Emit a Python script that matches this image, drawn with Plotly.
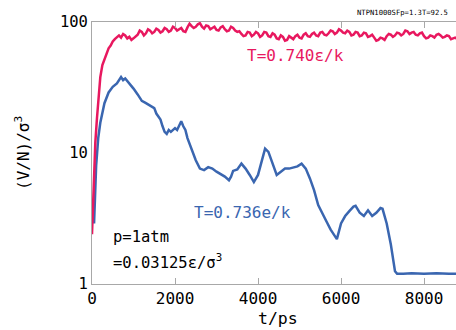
import plotly.graph_objects as go

# Red series: T = 0.740 eps/k  (main readings)
red_t = [0, 40, 80, 120, 160, 200, 250, 300, 350, 400, 450, 500, 550, 600, 650, 700, 750, 800, 850, 900, 950, 1000,
         1100, 1200, 1300, 1400, 1500, 1600, 1700, 1800, 1900, 2000, 2100, 2200, 2300, 2350, 2400, 2500, 2600, 2700,
         2800, 2900, 3000, 3100, 3200, 3300, 3400, 3500, 3600, 3700, 3800, 3900, 4000, 4100, 4200, 4300, 4400, 4500,
         4600, 4700, 4800, 4900, 5000, 5100, 5200, 5300, 5400, 5500, 5600, 5700, 5800, 5900, 6000, 6100, 6200, 6300,
         6400, 6500, 6600, 6700, 6800, 6900, 7000, 7100, 7200, 7300, 7400, 7500, 7600, 7700, 7800, 7900, 8000, 8100,
         8200, 8300, 8400, 8500, 8600, 8700, 8800]
red_v = [2.4, 6, 12, 18.5, 27, 38, 47, 52, 58, 63, 66, 71, 74, 77, 79, 76, 81, 79, 75, 77, 73, 75,
         80, 84, 82, 86, 84, 87, 85, 88, 86, 90, 88, 85, 91, 97, 93, 92, 98, 89,
         93, 90, 87, 91, 88, 86, 90, 84, 81, 79, 83, 80, 82, 79, 83, 77, 80, 74,
         77, 73, 76, 78, 76, 80, 78, 81, 79, 83, 80, 82, 85, 83, 86, 82, 84, 80,
         83, 79, 82, 78, 76, 73, 75, 78, 80, 79, 82, 81, 85, 83, 80, 82, 78, 76,
         78, 80, 79, 77, 78, 75, 74]
# Red series: extra readings of the fluctuations between the main readings
red_t_mid = [1050, 1150, 1250, 1350, 1450, 1550, 1650, 1750, 1850, 1950, 2050, 2150, 2250, 2450, 2550, 2650, 2750,
             2850, 2950, 3050, 3150, 3250, 3350, 3450, 3550, 3650, 3750, 3850, 3950, 4050, 4150, 4250, 4350, 4450,
             4550, 4650, 4750, 4850, 4950, 5050, 5150, 5250, 5350, 5450, 5550, 5650, 5750, 5850, 5950, 6050, 6150,
             6250, 6350, 6450, 6550, 6650, 6750, 6850, 6950, 7050, 7150, 7250, 7350, 7450, 7550, 7650, 7750, 7850,
             7950, 8050, 8150, 8250, 8350, 8450, 8550, 8650, 8750]
red_v_mid = [78, 86, 79, 88, 82, 89, 83, 90, 84, 92, 86, 90, 84, 90, 96, 92, 94,
             88, 92, 86, 93, 85, 92, 86, 85, 78, 84, 78, 84, 77, 84, 78, 82, 75,
             79, 72, 78, 74, 80, 75, 82, 77, 83, 78, 84, 79, 86, 81, 88, 83, 86,
             79, 84, 78, 83, 77, 80, 72, 76, 73, 81, 77, 83, 79, 86, 81, 84, 79,
             83, 75, 79, 76, 81, 76, 79, 74, 76]

# Blue series: T = 0.736 e/k
blue_t = [50, 100, 150, 200, 300, 400, 500, 600, 700, 750, 800, 900, 1000, 1100, 1200, 1300, 1400, 1500, 1550,
          1600, 1650, 1700, 1750, 1800, 1850, 1900, 2000, 2050, 2100, 2150, 2200, 2250, 2300, 2400, 2500, 2600,
          2700, 2800, 2900, 3000, 3100, 3200, 3300, 3350, 3400, 3500, 3600, 3700, 3800, 3900, 4000, 4100, 4170,
          4250, 4350, 4450, 4550, 4650, 4750, 4850, 4950, 5050, 5150, 5250, 5350, 5450, 5550, 5650, 5750, 5900,
          6000, 6100, 6200, 6300, 6350, 6450, 6550, 6650, 6750, 6850, 6950, 7000, 7100, 7200, 7300, 7350, 7500,
          7700, 8000, 8300, 8600, 8800]
blue_v = [2.9, 8, 13, 17, 24, 29, 32, 34, 38, 36, 37, 34, 31, 28, 25, 24, 23, 22, 20,
          19, 18, 16, 14.5, 14, 15, 14.5, 15.5, 15, 16, 17.5, 16, 15, 13, 10.5, 8.8, 7.6,
          7.4, 7.8, 7.6, 7.2, 6.9, 6.6, 6.2, 6.6, 7.3, 7.5, 8.3, 7.6, 6.8, 6.0, 6.8, 9.0, 10.8,
          10.2, 8.2, 6.8, 7.2, 7.6, 7.6, 7.8, 7.9, 8.3, 7.6, 6.4, 5.2, 4.0, 3.5, 3.0, 2.6, 2.2,
          2.9, 3.3, 3.6, 3.9, 3.95, 3.5, 3.3, 3.65, 3.3, 3.5, 3.8, 3.75, 2.9, 2.0, 1.25, 1.2, 1.2,
          1.21, 1.2, 1.21, 1.2, 1.2]

x_ticks = [0, 2000, 4000, 6000, 8000]
y_ticks = [1, 10, 100]

RED = "#E8185F"
BLUE = "#3A66B0"
FONT = "DejaVu Sans Mono"

red_pairs = sorted(zip(red_t + red_t_mid, red_v + red_v_mid))
red_x = [p[0] for p in red_pairs]
red_y = [p[1] for p in red_pairs]

fig = go.Figure()
fig.add_trace(go.Scatter(x=blue_t, y=blue_v, mode="lines", line=dict(color=BLUE, width=2.5)))
fig.add_trace(go.Scatter(x=red_x, y=red_y, mode="lines", line=dict(color=RED, width=2.5)))

fig.update_layout(
    width=456, height=330,
    margin=dict(l=92, r=0, t=22, b=46),
    paper_bgcolor="white", plot_bgcolor="white",
    showlegend=False,
    font=dict(family=FONT, color="black"),
    xaxis=dict(range=[0, 8770], tickvals=x_ticks, ticktext=[str(v) for v in x_ticks], automargin=False,
               showgrid=False, zeroline=False, showline=True, linecolor="#A8A8A8", linewidth=1,
               mirror="ticks", ticks="inside", ticklen=6, tickcolor="#A8A8A8",
               tickfont=dict(size=16, family=FONT)),
    yaxis=dict(type="log", range=[0, 2], tickvals=y_ticks, ticktext=[str(v) for v in y_ticks], automargin=False,
               showgrid=False, zeroline=False, showline=True, linecolor="#A8A8A8", linewidth=1,
               ticks="", tickfont=dict(size=15.5, family=FONT)),
)

# pixel positions -> paper coordinates
def px(xp, yp):
    return (xp - 92) / 364, (284 - yp) / 262

items = [
    ("t/ps", (278, 318), "center", 0, dict(size=16.5)),
    ("(V/N)/σ<sup>3</sup>", (22, 153), "center", -90, dict(size=16)),
    ("NTPN1000SFp=1.3T=92.5", (450, 12), "right", 0, dict(size=7.2)),
    ("T=0.740ε/k", (245, 55), "left", 0, dict(size=16, color=RED)),
    ("T=0.736e/k", (192, 212), "left", 0, dict(size=16, color=BLUE)),
    ("p=1atm", (111, 237), "left", 0, dict(size=15.5)),
    ("=0.03125ε/σ<sup>3</sup>", (111, 261), "left", 0, dict(size=15.5)),
]
ann = []
for text, p, xa, ang, f in items:
    x, y = px(*p)
    ann.append(dict(text=text, x=x, y=y, xref="paper", yref="paper", xanchor=xa, yanchor="middle",
                    textangle=ang, showarrow=False, font=f))
fig.update_layout(annotations=ann)

fig.write_html("out.html", config={"displayModeBar": False},
               post_script="document.body.style.margin='0';document.body.style.overflow='hidden';")
